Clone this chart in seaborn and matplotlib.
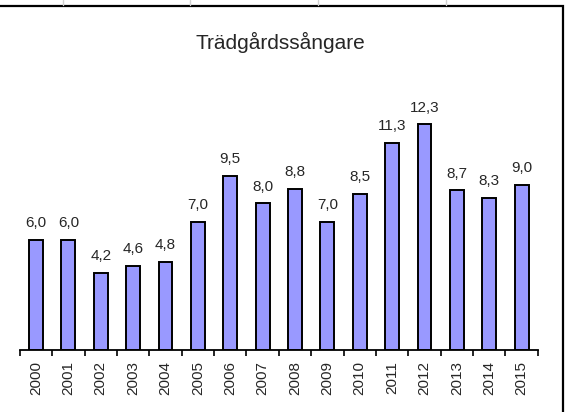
import numpy as np
import pandas as pd
import seaborn as sns
import matplotlib.pyplot as plt
from matplotlib.patches import Rectangle
from matplotlib.lines import Line2D

years = [str(y) for y in range(2000, 2016)]
values = [6.0, 6.0, 4.2, 4.6, 4.8, 7.0, 9.5, 8.0, 8.8, 7.0, 8.5, 11.3, 12.3, 8.7, 8.3, 9.0]
title = "Trädgårdssångare"

sns.set_style("white")
plt.rcParams['font.family'] = ['Liberation Sans', 'DejaVu Sans']

W, H = 568, 412
fig = plt.figure(figsize=(W / 100, H / 100), dpi=100)
fig.patch.set_facecolor("white")

# axes placed in pixel terms (baseline at y=350, ~18.3 px per unit)
left, right, base, top = 19.8, 537.8, 350, 93.3
ax = fig.add_axes([left / W, 1 - base / H, (right - left) / W, (base - top) / H])

df = pd.DataFrame({"year": years, "value": values})
sns.barplot(data=df, x="year", y="value", color="#9999FF", saturation=1,
            edgecolor="black", linewidth=1.4, width=0.43, ax=ax)

ax.set_xlim(-0.5, len(years) - 0.5)
ax.set_ylim(0, 14)
ax.set_xlabel("")
ax.set_ylabel("")
ax.set_yticks([])
for s in ["left", "top", "right"]:
    ax.spines[s].set_visible(False)
ax.spines["bottom"].set_linewidth(1.3)
ax.spines["bottom"].set_color("black")

ax.set_xticks(range(len(years)))
ax.set_xticklabels(years, rotation=90, fontsize=11)
ax.tick_params(axis="x", which="major", bottom=True, length=0, pad=8)
ax.set_xticks(np.arange(-0.5, len(years)), minor=True)
ax.tick_params(axis="x", which="minor", bottom=True, length=4, width=1.2,
               color="black", direction="out")

labels = [f"{v:.1f}".replace(".", ",") for v in values]
ax.bar_label(ax.containers[0], labels=labels, padding=7, fontsize=11)

fig.text(280 / W, 1 - 49 / H, title, ha="center", va="baseline", fontsize=15)

# chart border and spreadsheet grid peeking above it
fig.add_artist(Rectangle((-0.02, -0.02), 563.5 / W + 0.02, 1 - 6 / H + 0.02,
                         transform=fig.transFigure, fill=False,
                         edgecolor="black", linewidth=1.6))
for gx in [63, 190, 318, 446]:
    fig.add_artist(Line2D([gx / W, gx / W], [1 - 5 / H, 1], transform=fig.transFigure,
                          color="#d0d0d0", linewidth=1))

fig.savefig("out.png", dpi=100)
